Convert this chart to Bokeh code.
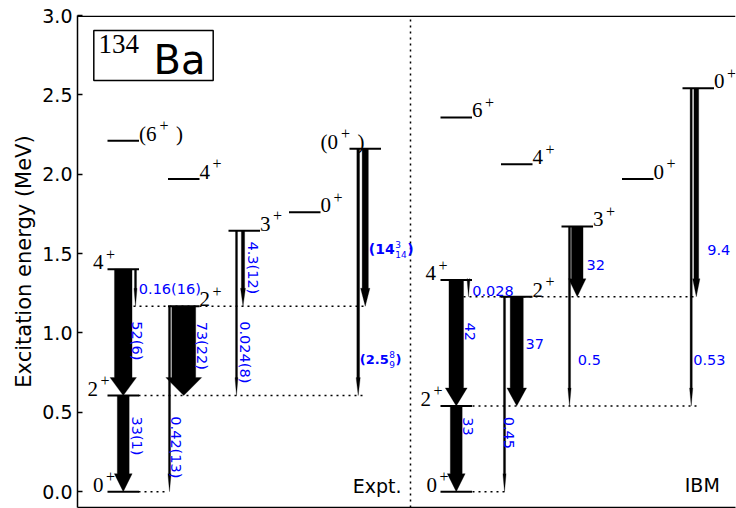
import numpy as np
from bokeh.plotting import figure
from bokeh.models import Range1d, FixedTicker, PrintfTickFormatter
from bokeh.embed import file_html
from bokeh.resources import INLINE
from bokeh.core.properties import value

# ---------------- data ----------------
y_ticks = [0.0, 0.5, 1.0, 1.5, 2.0, 2.5, 3.0]

expt_spin = ["0", "2", "4", "2", "3", "0", "4", "6", "0"]
expt_energy = [0.0, 0.605, 1.401, 1.168, 1.643, 1.760, 1.970, 2.211, 2.160]
expt_tentative = [False, False, False, False, False, False, False, True, True]

ibm_spin = ["0", "2", "4", "2", "3", "0", "4", "6", "0"]
ibm_energy = [0.0, 0.540, 1.333, 1.228, 1.671, 1.970, 2.062, 2.358, 2.541]
ibm_tentative = [False, False, False, False, False, False, False, False, False]

# transitions (index of initial level -> index of final level)
expt_from = [2, 2, 1, 3, 3, 4, 4, 8, 8]
expt_to = [1, 3, 0, 0, 1, 1, 3, 1, 3]
expt_be2 = [52, 0.16, 33, 0.42, 73, 0.024, 4.3, 2.5, 14]
expt_text = ["52(6)", "0.16(16)", "33(1)", "0.42(13)", "73(22)", "0.024(8)", "4.3(12)", "2.5", "14"]
expt_err_up = ["", "", "", "", "", "", "", "8", "3"]
expt_err_dn = ["", "", "", "", "", "", "", "9", "14"]

ibm_from = [2, 2, 1, 3, 3, 4, 4, 8, 8]
ibm_to = [1, 3, 0, 0, 1, 1, 3, 1, 3]
ibm_be2 = [42, 0.028, 33, 0.45, 37, 0.5, 32, 0.53, 9.4]
ibm_text = ["42", "0.028", "33", "0.45", "37", "0.5", "32", "0.53", "9.4"]
ibm_err_up = [""] * 9
ibm_err_dn = [""] * 9

# ---------------- layout (pixels / positions) ----------------
FIG_W, FIG_H = 736, 508
B_LEFT, B_RIGHT, B_TOP, B_BOTTOM = 77, 1, 15, 1
FRAME_W, FRAME_H = FIG_W - B_LEFT - B_RIGHT, FIG_H - B_TOP - B_BOTTOM
X0, X1 = 0.0, float(FRAME_W)          # one x unit = one pixel
Y0, Y1 = -0.1, 3.0
PX_Y = (Y1 - Y0) / FRAME_H   # MeV per pixel
COL_PITCH = 60.5
LEVEL_W = 31.5
EXPT_FIRST = 30.0
IBM_FIRST = 363.0
DIVIDER_X = 333.0

level_col = [0, 0, 0, 1, 2, 3, 1, 0, 4]
expt_label_dx = [-14.5, -20.0, -14.5, 31.5, 31.5, 31.5, 31.5, 31.5, -29.0]
ibm_label_dx = [-14.0, -20.0, -15.0, 31.5, 31.5, 31.5, 31.5, 31.5, 31.5]
expt_arrow_dx = [15.75, 28.0, 15.75, 1.5, 15.75, 8.0, 14.5, 8.7, 15.75]
ibm_arrow_dx = [15.75, 28.0, 15.75, 3.5, 15.75, 8.0, 15.75, 8.7, 13.8]

expt_lab_rot = [True, False, True, True, True, True, True, False, False]
expt_lab_x = [59.7, 61.3, 59.7, 98.0, 124.7, 167.0, 175.7, 282.3, 291.3]
expt_lab_y = [0.950, 1.278, 0.351, 0.279, 0.919, 0.878, 1.410, 0.835, 1.528]
ibm_lab_rot = [True, False, True, True, False, False, False, False, False]
ibm_lab_x = [392.3, 394.7, 390.7, 431.3, 448.0, 500.3, 509.0, 615.7, 629.7]
ibm_lab_y = [1.007, 1.261, 0.410, 0.370, 0.929, 0.828, 1.429, 0.828, 1.524]

expt_guides = [(0, 61.0, 91.0), (1, 61.0, 286.0), (3, 56.0, 288.0)]
ibm_guides = [(0, 395.0, 427.0), (1, 395.0, 620.0), (3, 386.0, 620.0)]

BLUE = "#0000ff"
SANS = "DejaVu Sans"
SERIF = "Liberation Serif"
SERIF_MID = 0.338   # em: glyph-centre above baseline (serif digits)
SANS_MID = 0.35     # em: for DejaVu Sans capitals/digits
LAB_SIZE = "14.5px"


def ypx(py):
    """convert a pixel row (page coords) into MeV"""
    return Y1 - (py - B_TOP) * PX_Y


BOLD_W = {"(": 0.457, ")": 0.457, ".": 0.380}
REG_W = {"(": 0.390, ")": 0.390, ".": 0.318}


def txt_width(s, size, bold):
    tab = BOLD_W if bold else REG_W
    dig = 0.696 if bold else 0.636
    return sum(tab.get(ch, dig) for ch in s) * size


p = figure(width=FIG_W, height=FIG_H,
           x_range=Range1d(X0, X1), y_range=Range1d(Y0, Y1),
           output_backend="svg", toolbar_location=None,
           min_border_left=B_LEFT, min_border_right=B_RIGHT,
           min_border_top=B_TOP, min_border_bottom=B_BOTTOM)
p.grid.visible = False
p.outline_line_color = None
p.background_fill_color = "white"
p.border_fill_color = "white"

# y axis
p.yaxis.ticker = FixedTicker(ticks=y_ticks)
p.yaxis.formatter = PrintfTickFormatter(format="%.1f")
p.yaxis.major_tick_in = 5
p.yaxis.major_tick_out = 0
p.yaxis.minor_tick_in = 0
p.yaxis.minor_tick_out = 0
p.yaxis.major_label_text_font = SANS
p.yaxis.major_label_text_font_size = "19px"
p.yaxis.major_label_text_color = "black"
p.yaxis.major_label_standoff = 5
p.yaxis.axis_label = "Excitation energy (MeV)"
p.yaxis.axis_label_text_font = SANS
p.yaxis.axis_label_text_font_size = "21px"
p.yaxis.axis_label_text_font_style = "normal"
p.yaxis.axis_label_text_color = "black"
p.yaxis.axis_label_standoff = 3
p.yaxis.axis_line_width = 1.5
p.yaxis.major_tick_line_width = 1.5

# bottom spine as a tickless axis
p.xaxis.ticker = FixedTicker(ticks=[])
p.xaxis.major_tick_in = 0
p.xaxis.major_tick_out = 0
p.xaxis.minor_tick_in = 0
p.xaxis.minor_tick_out = 0
p.xaxis.major_label_text_font_size = "0px"
p.xaxis.major_label_standoff = 0
p.xaxis.axis_line_width = 1.5

# top spine
p.segment(x0=[X0], y0=[Y1 - 0.75 * PX_Y], x1=[X1], y1=[Y1 - 0.75 * PX_Y],
          line_color="black", line_width=1.5)

# divider
p.segment(x0=[DIVIDER_X], y0=[Y0], x1=[DIVIDER_X], y1=[Y1],
          line_color="black", line_width=1.5, line_dash="2 4")


def draw_scheme(first, energy, spin, tentative, label_dx,
                t_from, t_to, be2, arrow_dx, texts, err_up, err_dn,
                lab_rot, lab_x, lab_y, guides):
    # dotted guide lines
    gx0, gx1, gy = [], [], []
    for li, xa, xb in guides:
        gx0.append(xa)
        gx1.append(xb)
        gy.append(energy[li])
    p.segment(x0=gx0, y0=gy, x1=gx1, y1=gy, line_color="black",
              line_width=1.5, line_dash="2 4")

    # level lines
    lx0 = [first + c * COL_PITCH for c in level_col]
    lx1 = [x + LEVEL_W for x in lx0]
    p.segment(x0=lx0, y0=energy, x1=lx1, y1=energy, line_color="black",
              line_width=2, line_cap="butt")

    # arrows
    xs_all, ys_all = [], []
    for fi, ti, b, dx in zip(t_from, t_to, be2, arrow_dx):
        xc = first + level_col[fi] * COL_PITCH + dx
        w = 2.0 + 0.3 * b
        hw = max(1.5 * w, w + 1.0)
        hl = 18 * PX_Y
        yf, yt = energy[fi], energy[ti]
        xs_all.append([xc - w / 2, xc + w / 2, xc + w / 2, xc + hw / 2, xc,
                       xc - hw / 2, xc - w / 2])
        ys_all.append([yf, yf, yt + hl, yt + hl, yt, yt + hl, yt + hl])
    p.patches(xs=xs_all, ys=ys_all, fill_color="black", line_color="black",
              line_width=0.3)

    # spin labels (centred vertically on the glyphs)
    mx, my, mt, sx, sy, cx, cy = [], [], [], [], [], [], []
    for E, s, t, c, dx in zip(energy, spin, tentative, level_col, label_dx):
        x = first + c * COL_PITCH + dx
        yc = E + SERIF_MID * 21 * PX_Y
        if t:
            mt.append("(" + s)
            sx.append(x + 20.5)
            cx.append(x + 37.0)
            cy.append(yc)
        else:
            mt.append(s)
            sx.append(x + 13.0)
        mx.append(x)
        my.append(yc)
        sy.append(E + 15.0 * PX_Y)
    p.text(x=mx, y=my, text=mt, text_font=value(SERIF), text_font_size=value("21px"),
           text_color="black", text_align="left", text_baseline="middle")
    p.text(x=sx, y=sy, text=["+"] * len(sx), text_font=value(SERIF),
           text_font_size=value("16px"), text_color="black", text_align="left",
           text_baseline="middle")
    if cx:
        p.text(x=cx, y=cy, text=[")"] * len(cx), text_font=value(SERIF),
               text_font_size=value("21px"), text_color="black", text_align="left",
               text_baseline="middle")

    # B(E2) labels
    rx, ry, rt, hx, hy, ht = [], [], [], [], [], []
    bx, by, bt, bsize = [], [], [], []
    supx, supy, supt, subx, suby, subt, clx, cly, clsize = [], [], [], [], [], [], [], [], []
    for tx, up, dn, rot, x, y in zip(texts, err_up, err_dn, lab_rot, lab_x, lab_y):
        if up:
            size = 14.0 if len(tx) == 2 else 13.0
            main = "(" + tx
            bx.append(x)
            by.append(y)
            bt.append(main)
            bsize.append("%gpx" % size)
            wm = txt_width(main, size, True)
            supx.append(x + wm + 0.5)
            supy.append(y + 5 * PX_Y)
            supt.append(up)
            subx.append(x + wm + 0.5)
            suby.append(y - 5 * PX_Y)
            subt.append(dn)
            wsc = max(txt_width(up, 9, False), txt_width(dn, 9, False))
            clx.append(x + wm + wsc + 1.0)
            cly.append(y)
            clsize.append("%gpx" % size)
        elif rot:
            rx.append(x)
            ry.append(y)
            rt.append(tx)
        else:
            hx.append(x)
            hy.append(y)
            ht.append(tx)
    p.text(x=rx, y=ry, text=rt, angle=-np.pi / 2, text_font=value(SANS),
           text_font_size=value(LAB_SIZE), text_color=BLUE, text_align="center",
           text_baseline="middle")
    p.text(x=hx, y=hy, text=ht, text_font=value(SANS),
           text_font_size=value(LAB_SIZE), text_color=BLUE, text_align="left",
           text_baseline="middle")
    if bx:
        p.text(x=bx, y=by, text=bt, text_font=value(SANS), text_font_size=bsize,
               text_font_style="bold", text_color=BLUE, text_align="left",
               text_baseline="middle")
        p.text(x=supx, y=supy, text=supt, text_font=value(SANS),
               text_font_size=value("9px"), text_color=BLUE, text_align="left",
               text_baseline="middle")
        p.text(x=subx, y=suby, text=subt, text_font=value(SANS),
               text_font_size=value("9px"), text_color=BLUE, text_align="left",
               text_baseline="middle")
        p.text(x=clx, y=cly, text=[")"] * len(clx), text_font=value(SANS),
               text_font_size=clsize, text_font_style="bold", text_color=BLUE,
               text_align="left", text_baseline="middle")


draw_scheme(EXPT_FIRST, expt_energy, expt_spin, expt_tentative, expt_label_dx,
            expt_from, expt_to, expt_be2, expt_arrow_dx, expt_text, expt_err_up,
            expt_err_dn, expt_lab_rot, expt_lab_x, expt_lab_y, expt_guides)
draw_scheme(IBM_FIRST, ibm_energy, ibm_spin, ibm_tentative, ibm_label_dx,
            ibm_from, ibm_to, ibm_be2, ibm_arrow_dx, ibm_text, ibm_err_up,
            ibm_err_dn, ibm_lab_rot, ibm_lab_x, ibm_lab_y, ibm_guides)

# nucleus label box
p.quad(left=[16.3], right=[135.7], top=[ypx(30)], bottom=[ypx(80)],
       fill_color=None, line_color="black", line_width=1.5)
p.text(x=[21.0], y=[ypx(53 - SERIF_MID * 27)], text=["134"], text_font=value(SERIF),
       text_font_size=value("27px"), text_color="black", text_align="left",
       text_baseline="middle")
p.text(x=[76.0], y=[ypx(73 - SANS_MID * 40)], text=["Ba"], text_font=value(SANS),
       text_font_size=value("40px"), text_color="black", text_align="left",
       text_baseline="middle")

# panel captions
p.text(x=[324.0, 642.3], y=[ypx(491.7 - SANS_MID * 19), ypx(490.7 - SANS_MID * 19)],
       text=["Expt.", "IBM"], text_font=value(SANS), text_font_size=value("19px"),
       text_color="black", text_align="right", text_baseline="middle")

open("out.html", "w").write(file_html(p, INLINE))
